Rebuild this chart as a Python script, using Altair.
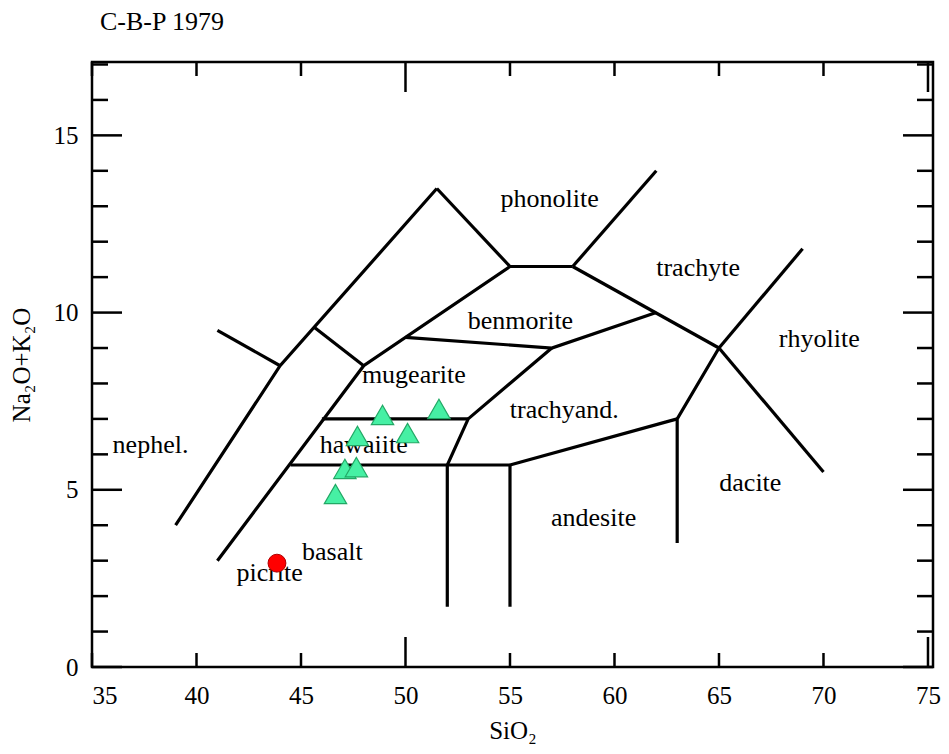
import altair as alt
import pandas as pd

# ---- classification boundary polylines (SiO2 wt%, Na2O+K2O wt%) ----
line_sio2 = [
    [39.0, 44.0, 51.5],
    [41.0, 44.0],
    [45.6, 48.0],
    [41.0, 48.0, 55.0],
    [51.5, 55.0],
    [55.0, 58.0],
    [58.0, 62.0],
    [58.0, 65.0],
    [65.0, 69.0],
    [65.0, 70.0],
    [65.0, 63.0, 63.0],
    [50.0, 57.0, 62.0],
    [57.0, 53.0, 52.0, 52.0],
    [46.0, 53.0],
    [44.5, 55.0],
    [55.0, 63.0],
    [55.0, 55.0],
]
line_alk = [
    [4.0, 8.5, 13.5],
    [9.5, 8.5],
    [9.6, 8.5],
    [3.0, 8.5, 11.3],
    [13.5, 11.3],
    [11.3, 11.3],
    [11.3, 14.0],
    [11.3, 9.0],
    [9.0, 11.8],
    [9.0, 5.5],
    [9.0, 7.0, 3.5],
    [9.3, 9.0, 10.0],
    [9.0, 7.0, 5.7, 1.7],
    [7.0, 7.0],
    [5.7, 5.7],
    [5.7, 7.0],
    [5.7, 1.7],
]

# ---- field names ----
field_names = ["phonolite", "trachyte", "rhyolite", "benmorite", "mugearite",
               "trachyand.", "hawaiite", "nephel.", "dacite", "andesite",
               "basalt", "picrite"]
field_sio2 = [56.9, 64.0, 69.8, 55.5, 50.4, 57.6, 48.0, 37.8, 66.5, 59.0, 46.5, 43.5]
field_alk = [13.2, 11.25, 9.25, 9.75, 8.25, 7.25, 6.25, 6.25, 5.2, 4.2, 3.25, 2.65]

# ---- samples ----
tri_sio2 = [48.9, 51.6, 47.7, 50.1, 47.1, 47.65, 46.65]
tri_alk = [7.11, 7.28, 6.52, 6.60, 5.59, 5.64, 4.88]
dot_sio2 = [43.85]
dot_alk = [2.93]

# ---- axis ticks ----
x_labels = [35, 40, 45, 50, 55, 60, 65, 70, 75]
x_short_ticks = [35, 40, 45, 55, 60, 65, 70]
x_long_ticks = [50, 75]
y_labels = [0, 5, 10, 15]
y_minor_ticks = [1, 2, 3, 4, 6, 7, 8, 9, 11, 12, 13, 14, 16, 17]
y_major_ticks = [0, 5, 10, 15]

chart_title = "C-B-P 1979"

W, H = 841, 605
FONT = "Liberation Serif"

rows = []
for i, (xs, ys) in enumerate(zip(line_sio2, line_alk)):
    for j, (a, b) in enumerate(zip(xs, ys)):
        rows.append({"seg": i, "ord": j, "sio2": a, "alk": b})
lines_df = pd.DataFrame(rows)
labels_df = pd.DataFrame({"sio2": field_sio2, "alk": field_alk, "name": field_names})
tri_df = pd.DataFrame({"sio2": tri_sio2, "alk": tri_alk})
dot_df = pd.DataFrame({"sio2": dot_sio2, "alk": dot_alk})

xscale = alt.Scale(domain=[35, 75.24], nice=False, zero=False)
yscale = alt.Scale(domain=[0, 17.07], nice=False, zero=False)
xaxis = alt.Axis(values=x_labels, title="SiO₂", domain=False, ticks=False, grid=False,
                 labelPadding=16, titlePadding=10)
yaxis = alt.Axis(values=y_labels, title="Na₂O+K₂O", domain=False, ticks=False, grid=False,
                 labelPadding=14, titlePadding=19)
X = alt.X("sio2:Q", scale=xscale, axis=xaxis)
Y = alt.Y("alk:Q", scale=yscale, axis=yaxis)

base_lines = alt.Chart(lines_df).mark_line(color="black", strokeWidth=3.2).encode(
    x=X, y=Y, detail="seg:N", order="ord:Q")

labels = alt.Chart(labels_df).mark_text(font=FONT, fontSize=26, color="black",
                                        align="center", baseline="middle").encode(
    x=X, y=Y, text="name:N")

tris = alt.Chart(tri_df).mark_point(shape="triangle-up", size=500, filled=True,
                                    fill="#46F0A4", stroke="#22A865", strokeWidth=1.2,
                                    opacity=1).encode(x=X, y=Y)
dots = alt.Chart(dot_df).mark_point(shape="circle", size=320, filled=True,
                                    fill="#FF0000", stroke="#B00000", strokeWidth=1,
                                    opacity=1).encode(x=X, y=Y)

title_mark = alt.Chart(pd.DataFrame({"t": [chart_title]})).mark_text(
    font=FONT, fontSize=26, color="black", align="left", baseline="alphabetic"
).encode(x=alt.value(8), y=alt.value(-32), text="t:N")

def xticks(vals, length):
    df = pd.DataFrame({"sio2": vals})
    b = alt.Chart(df).mark_rule(color="black", strokeWidth=2.5)
    bottom = b.encode(x=X, y=alt.value(H), y2=alt.value(H - length))
    top = b.encode(x=X, y=alt.value(0), y2=alt.value(length))
    return [bottom, top]

def yticks(vals, length):
    df = pd.DataFrame({"alk": vals})
    b = alt.Chart(df).mark_rule(color="black", strokeWidth=2.5)
    left = b.encode(y=Y, x=alt.value(0), x2=alt.value(length))
    right = b.encode(y=Y, x=alt.value(W), x2=alt.value(W - length))
    return [left, right]

tick_layers = (xticks(x_short_ticks, 14) + xticks(x_long_ticks, 30)
               + yticks(y_minor_ticks, 16) + yticks(y_major_ticks, 30))

chart = alt.layer(base_lines, *tick_layers, labels, tris, dots, title_mark).properties(
    width=W, height=H,
    autosize=alt.AutoSizeParams(type="none"),
    padding={"left": 84, "top": 54, "right": 8, "bottom": 79},
).configure_view(stroke="black", strokeWidth=2.5).configure_axis(
    labelFont=FONT, labelFontSize=25, labelColor="black",
    titleFont=FONT, titleFontSize=25, titleColor="black", titleFontWeight="normal",
)

chart.save("out.html", embed_options={"renderer": "svg", "actions": False})
